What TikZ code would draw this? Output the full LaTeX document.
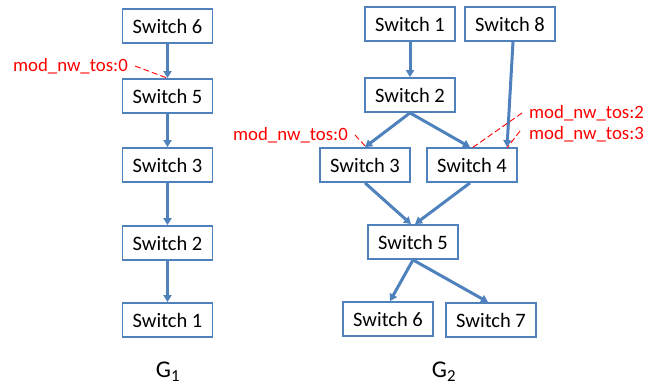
\documentclass[tikz,border=0pt]{standalone}
\usepackage{fontspec}
\setmainfont{Carlito}
\usetikzlibrary{arrows.meta}
\definecolor{sblue}{HTML}{4F81BD}
\definecolor{tosred}{HTML}{FF0000}
\tikzset{
  sw/.style={draw=sblue, line width=1.8bp, fill=white, minimum width=90bp, minimum height=34bp,
             inner sep=0pt, font=\fontsize{20.5bp}{24bp}\selectfont},
  link/.style={draw=sblue, line width=3bp, -{Triangle[length=7bp,width=8bp]}},
  tos/.style={text=tosred, inner sep=0pt, font=\fontsize{18.8bp}{22bp}\selectfont},
  tosline/.style={draw=tosred, line width=0.9bp, dash pattern=on 6bp off 3bp},
  glabel/.style={inner sep=0pt, font=\fontsize{24bp}{28bp}\selectfont}
}
\begin{document}
\begin{tikzpicture}[x=1bp, y=-1bp]
\useasboundingbox (0,0) rectangle (662,385);

% ---- G1: a chain of five switches
\node[sw] (a6) at (167.5,26) {Switch 6};
\node[sw] (a5) at (167.5,96) {Switch 5};
\node[sw] (a3) at (167.5,165) {Switch 3};
\node[sw] (a2) at (167.5,243) {Switch 2};
\node[sw] (a1) at (167.5,320) {Switch 1};
\draw[link] (a6) -- (a5);
\draw[link] (a5) -- (a3);
\draw[link] (a3) -- (a2);
\draw[link] (a2) -- (a1);

\node[tos, anchor=east] (t10) at (128,66) {mod\_nw\_tos:0};
\coordinate (t10end) at (167,78);
\draw[tosline] (t10.east) ++(7,0) -- (t10end);

\node[glabel] (g1) at (168,372) {G\textsubscript{1}};

% ---- G2: a small tree of switches
\node[sw] (b1) at (410,24) {Switch 1};
\node[sw] (b8) at (510,24) {Switch 8};
\node[sw] (b2) at (410,95) {Switch 2};
\node[sw] (b3) at (365,165) {Switch 3};
\node[sw] (b4) at (472,165) {Switch 4};
\node[sw] (b5) at (413,242) {Switch 5};
\node[sw] (b6) at (388,319) {Switch 6};
\node[sw] (b7) at (491,320) {Switch 7};

\draw[link] (b1) -- (b2);
\draw[link] (b2.south) -- (b3.north);
\draw[link] (b2.south) -- ([xshift=-2bp]b4.north);
\draw[link] ([xshift=3bp]b8.south) -- ([xshift=35bp]b4.north);
\draw[link] (b3.south) -- ([xshift=-2bp]b5.north);
\draw[link] ([xshift=-2bp]b4.south) -- ([xshift=2bp]b5.north);
\draw[link] (b5.south) -- ([xshift=2bp]b6.north);
\draw[link] (b5.south) -- ([xshift=-3bp]b7.north);

\node[tos, anchor=east] (t20) at (348,135) {mod\_nw\_tos:0};
\coordinate (t20end) at (367,148);
\draw[tosline] (t20.east) ++(7,0) -- (t20end);

\node[tos, anchor=west] (t22) at (529,113) {mod\_nw\_tos:2};
\node[tos, anchor=west] (t23) at (529,134) {mod\_nw\_tos:3};
\coordinate (t22end) at (472,148);
\coordinate (t23end) at (507,148);
\draw[tosline] (t22.west) ++(-7,0) -- (t22end);
\draw[tosline] (t23.west) ++(-9,-3) -- (t23end);

\node[glabel] (g2) at (444,372) {G\textsubscript{2}};
\end{tikzpicture}
\end{document}
